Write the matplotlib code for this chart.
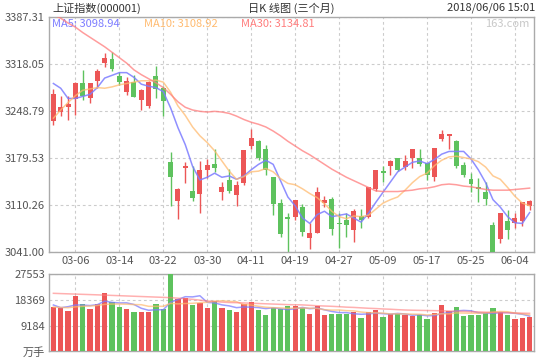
import matplotlib
matplotlib.use('Agg')
import matplotlib.pyplot as plt

plt.rcParams['font.family'] = ['Noto Sans CJK SC', 'DejaVu Sans']

dates = ['03-01', '03-02', '03-05', '03-06', '03-07', '03-08', '03-09', '03-12', '03-13', '03-14',
         '03-15', '03-16', '03-19', '03-20', '03-21', '03-22', '03-23', '03-26', '03-27', '03-28',
         '03-29', '03-30', '04-02', '04-03', '04-04', '04-09', '04-10', '04-11', '04-12', '04-13',
         '04-16', '04-17', '04-18', '04-19', '04-20', '04-23', '04-24', '04-25', '04-26', '04-27',
         '05-02', '05-03', '05-04', '05-07', '05-08', '05-09', '05-10', '05-11', '05-14', '05-15',
         '05-16', '05-17', '05-18', '05-21', '05-22', '05-23', '05-24', '05-25', '05-28', '05-29',
         '05-30', '05-31', '06-01', '06-04', '06-05', '06-06']

opens = [3234, 3247, 3255, 3266, 3290, 3268, 3292, 3319, 3325, 3300,
         3277, 3291, 3265, 3256, 3300, 3282, 3173, 3116, 3164, 3131,
         3126, 3161, 3170, 3130, 3147, 3125, 3143, 3197, 3204, 3193,
         3152, 3113, 3092, 3093, 3107, 3062, 3069, 3113, 3119, 3083,
         3088, 3074, 3094, 3093, 3134, 3160, 3168, 3180, 3166, 3179,
         3180, 3172, 3151, 3207, 3211, 3205, 3169, 3148, 3136, 3129,
         3081, 3060, 3086, 3083, 3087, 3108]
highs = [3281, 3270, 3270, 3291, 3309, 3290, 3310, 3334, 3335, 3306,
         3299, 3302, 3281, 3293, 3315, 3285, 3188, 3135, 3173, 3167,
         3175, 3178, 3192, 3144, 3163, 3146, 3191, 3222, 3206, 3198,
         3152, 3119, 3098, 3118, 3112, 3084, 3137, 3123, 3122, 3098,
         3099, 3105, 3104, 3137, 3162, 3168, 3177, 3180, 3184, 3193,
         3193, 3172, 3194, 3221, 3215, 3206, 3174, 3157, 3150, 3144,
         3085, 3098, 3103, 3099, 3114, 3118]
lows = [3228, 3241, 3235, 3243, 3264, 3261, 3283, 3314, 3308, 3287,
        3272, 3269, 3250, 3253, 3268, 3241, 3109, 3090, 3143, 3116,
        3098, 3150, 3159, 3117, 3128, 3109, 3140, 3193, 3177, 3155,
        3096, 3063, 3041, 3088, 3065, 3045, 3069, 3107, 3066, 3047,
        3063, 3056, 3077, 3091, 3131, 3144, 3154, 3160, 3161, 3164,
        3167, 3147, 3145, 3205, 3192, 3165, 3152, 3129, 3115, 3110,
        3041, 3054, 3060, 3076, 3079, 3103]
closes = [3274, 3255, 3259, 3290, 3271, 3289, 3308, 3326, 3310, 3291,
          3292, 3269, 3280, 3291, 3281, 3263, 3152, 3134, 3167, 3121,
          3162, 3169, 3164, 3137, 3131, 3140, 3191, 3209, 3180, 3161,
          3111, 3067, 3090, 3118, 3071, 3069, 3130, 3118, 3075, 3082,
          3081, 3101, 3088, 3137, 3162, 3158, 3175, 3162, 3175, 3193,
          3170, 3154, 3194, 3214, 3214.5, 3168, 3154, 3141, 3134, 3119,
          3041.5, 3098, 3073, 3091, 3114, 3116]

ma5 = [3289, 3282, 3267, 3267, 3270, 3273, 3283, 3297, 3301, 3305,
       3305, 3298, 3288, 3285, 3283, 3277, 3253, 3224, 3199, 3167,
       3147, 3151, 3157, 3151, 3153, 3148, 3153, 3162, 3170, 3176,
       3170, 3146, 3122, 3109, 3091, 3083, 3096, 3101, 3093, 3095,
       3097, 3091, 3085, 3098, 3114, 3129, 3144, 3159, 3166, 3173,
       3175, 3171, 3177, 3185, 3189, 3189, 3189, 3178, 3162, 3143,
       3118, 3107, 3093, 3084, 3083, 3099]
ma10 = [3238, 3250, 3261, 3271, 3279, 3281, 3283, 3282, 3284, 3287,
        3289, 3291, 3293, 3293, 3294, 3291, 3276, 3256, 3242, 3225,
        3212, 3202, 3190, 3175, 3160, 3148, 3152, 3159, 3160, 3164,
        3159, 3149, 3142, 3140, 3134, 3127, 3121, 3112, 3101, 3093,
        3090, 3094, 3093, 3095, 3104, 3113, 3118, 3122, 3132, 3143,
        3152, 3157, 3168, 3176, 3181, 3182, 3180, 3178, 3174, 3166,
        3153, 3148, 3136, 3123, 3113, 3109]
ma30 = [3390, 3385, 3378, 3372, 3364, 3357, 3350, 3343, 3335, 3327,
        3319, 3309, 3302, 3296, 3290, 3283, 3273, 3262, 3254, 3250,
        3248, 3247, 3248, 3247, 3245, 3241, 3236, 3232, 3229, 3225,
        3219, 3212, 3204, 3197, 3190, 3184, 3177, 3170, 3163, 3157,
        3151, 3146, 3141, 3136, 3131, 3130, 3130, 3130, 3131, 3132,
        3134, 3135, 3137, 3140, 3141, 3140, 3138, 3137, 3135, 3133,
        3132, 3132, 3132, 3133, 3134, 3135]

volumes = [15960, 15390, 14530, 19890, 16920, 15140, 16920, 20860, 17640, 15960,
           15240, 14060, 14060, 14060, 16920, 15240, 27553, 18820, 19180, 16570,
           17280, 15600, 18000, 15600, 14780, 14060, 16920, 17640, 14780, 12990,
           15600, 15030, 16210, 16300, 15390, 13350, 16210, 12990, 13350, 13350,
           13350, 14170, 12020, 14060, 14780, 12270, 13350, 13350, 12990, 12630,
           12990, 11660, 13700, 16570, 14420, 15850, 12630, 12990, 12990, 13700,
           15490, 14060, 12990, 11660, 12020, 12270]
vol_ma5 = [16570, 15600, 15960, 16570, 16540, 16370, 16680, 17950, 17500, 17300,
           17330, 16750, 15390, 14680, 14870, 14870, 17570, 18520, 19540, 19470,
           19880, 17490, 17330, 16610, 16250, 15610, 15870, 15800, 15640, 15280,
           15590, 15210, 14920, 15230, 15700, 15250, 15490, 14850, 14260, 13850,
           13850, 13440, 13250, 13390, 13680, 13460, 13300, 13560, 13350, 12920,
           13060, 12720, 12800, 13510, 13870, 14440, 14630, 14490, 13780, 13630,
           13560, 13850, 13850, 13580, 13250, 12600]
vol_ma10 = [15800, 15700, 15600, 15900, 16100, 16200, 16400, 16800, 16900, 16920,
            16850, 16720, 16670, 16090, 16090, 16100, 17160, 16960, 17110, 17170,
            17380, 17530, 17920, 18080, 17860, 17740, 16680, 16560, 16120, 15770,
            15600, 15540, 15360, 15430, 15490, 15420, 15350, 14880, 14740, 14780,
            14550, 14460, 14050, 13820, 13760, 13650, 13370, 13400, 13370, 13300,
            13260, 13010, 13180, 13430, 13390, 13750, 13680, 13640, 13640, 13750,
            14000, 14240, 14170, 13680, 13400, 13050]
vol_ma30 = [20750, 20650, 20560, 20470, 20380, 20290, 20200, 20100, 20000, 19900,
            19800, 19700, 19600, 19500, 19400, 19300, 19200, 19000, 18800, 18600,
            18300, 18000, 17800, 17600, 17450, 17400, 17300, 17200, 17100, 17000,
            16900, 16800, 16700, 16650, 16600, 16450, 16300, 16200, 16100, 15960,
            15800, 15700, 15550, 15400, 15300, 15150, 15050, 14900, 14780, 14700,
            14650, 14600, 14550, 14500, 14400, 14350, 14300, 14170, 14100, 14000,
            13900, 13850, 13780, 13700, 13650, 13600]

price_ticks = [3041.00, 3110.26, 3179.53, 3248.79, 3318.05, 3387.31]
vol_ticks = [0, 9184, 18369, 27553]
vol_tick_labels = ['万手', '9184', '18369', '27553']
date_ticks = ['03-06', '03-14', '03-22', '03-30', '04-11', '04-19',
              '04-27', '05-09', '05-17', '05-25', '06-04']
ma_labels = ['MA5: 3098.94', 'MA10: 3108.92', 'MA30: 3134.81']

RED = '#ec5656'
GREEN = '#5ec25e'
C_MA5 = '#7c7cff'
C_MA10 = '#ffbb70'
C_MA30 = '#ff7c7c'
SPINE = '#aaaaaa'
GRID = '#cccccc'
TXT = '#555555'

fig = plt.figure(figsize=(5.4, 3.6), dpi=100)
ax = fig.add_axes([49 / 540, 108 / 360, 485 / 540, 235.3 / 360])
axv = fig.add_axes([49 / 540, 8.7 / 360, 485 / 540, 77 / 360])

x = list(range(len(dates)))
tick_pos = [dates.index(d) for d in date_ticks]

for a in (ax, axv):
    a.set_xlim(-0.6, len(dates) - 0.4)
    for s in a.spines.values():
        s.set_color(SPINE)
        s.set_linewidth(1)
    a.set_xticks(tick_pos)
    a.tick_params(length=0, colors=TXT, labelsize=8, pad=3)
    a.grid(True, color=GRID, linestyle=(0, (2.5, 2.5)), linewidth=0.8)
    a.set_axisbelow(True)

# candles
for i in x:
    o, h, l, c = opens[i], highs[i], lows[i], closes[i]
    col = RED if c >= o else GREEN
    ax.vlines(i, l, h, color=col, linewidth=1, zorder=2)
    ax.bar(i, max(abs(c - o), 1.5), bottom=min(o, c), width=0.68, color=col, zorder=3)

ax.plot(x, ma5, color=C_MA5, lw=1.1, alpha=0.85, zorder=4)
ax.plot(x, ma10, color=C_MA10, lw=1.1, alpha=0.75, zorder=4)
ax.plot(x, ma30, color=C_MA30, lw=1.1, alpha=0.75, zorder=4)

ax.set_ylim(price_ticks[0], price_ticks[-1])
ax.set_yticks(price_ticks)
ax.set_yticklabels(['%.2f' % t for t in price_ticks])
ax.set_xticklabels(date_ticks)

ax.text(0.006, 0.968, ma_labels[0], transform=ax.transAxes, color=C_MA5, fontsize=8, va='center')
ax.text(0.195, 0.968, ma_labels[1], transform=ax.transAxes, color=C_MA10, fontsize=8, va='center')
ax.text(0.395, 0.968, ma_labels[2], transform=ax.transAxes, color=C_MA30, fontsize=8, va='center')
ax.text(0.99, 0.968, '163.com', transform=ax.transAxes, color='#c8c8c8', fontsize=8,
        va='center', ha='right')

# volume
vcols = [RED if closes[i] >= opens[i] else GREEN for i in x]
axv.bar(x, volumes, width=0.72, color=vcols, zorder=3)
axv.plot(x, vol_ma5, color=C_MA5, lw=1.1, alpha=0.75, zorder=4)
axv.plot(x, vol_ma10, color=C_MA10, lw=1.1, alpha=0.7, zorder=4)
axv.plot(x, vol_ma30, color=C_MA30, lw=1.1, alpha=0.6, zorder=4)
axv.set_ylim(0, vol_ticks[-1])
axv.set_yticks(vol_ticks)
axv.set_yticklabels(vol_tick_labels)
axv.set_xticklabels([])

fig.text(52 / 540, 1 - 8 / 360, '上证指数(000001)', fontsize=8, color='#333333', va='center')
fig.text(291 / 540, 1 - 8 / 360, '日K 线图 (三个月)', fontsize=8, color='#333333', va='center', ha='center')
fig.text(535 / 540, 1 - 8 / 360, '2018/06/06 15:01', fontsize=8, color='#333333', va='center', ha='right')

fig.savefig('out.png', dpi=100, facecolor='white')
